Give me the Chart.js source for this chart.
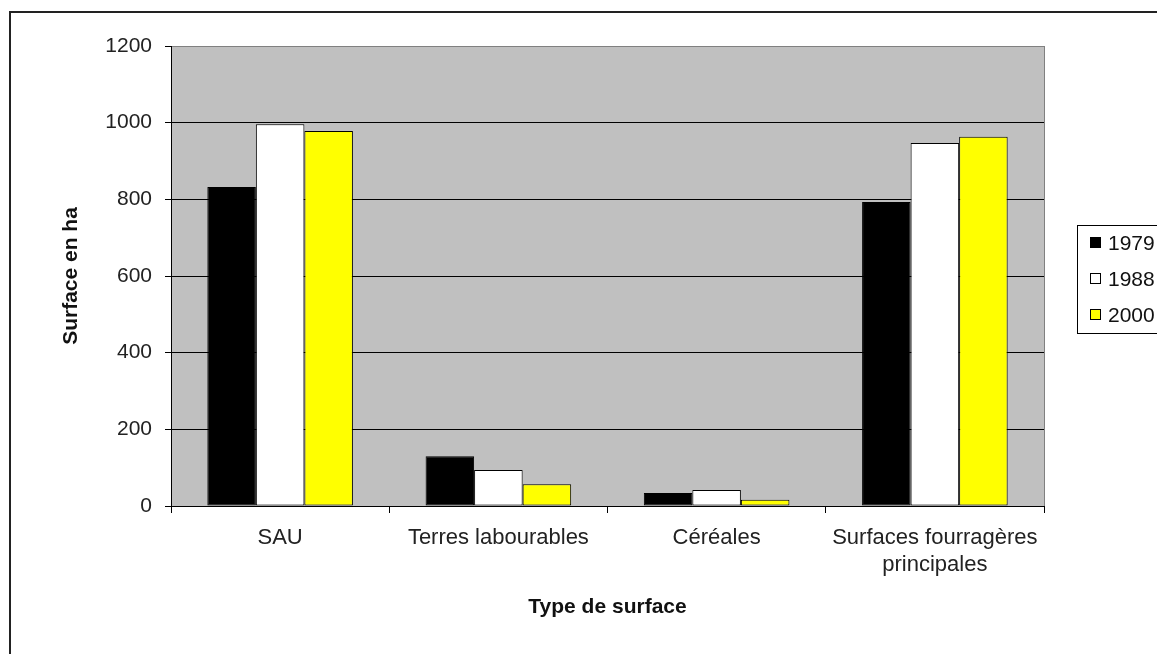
<!DOCTYPE html>
<html>
<head>
<meta charset="utf-8">
<script src="https://cdn.jsdelivr.net/npm/chart.js@4"></script>
<style>
  html, body { margin: 0; padding: 0; background: #fff; overflow: hidden; }
  #frame { position: absolute; left: 9px; top: 11px; width: 1300px; height: 800px; border: 2px solid #222; }
  #wrap { position: absolute; left: 0; top: 0; width: 1157px; height: 654px; }
</style>
</head>
<body>
<div id="frame"></div>
<div id="wrap"><canvas id="c"></canvas></div>
<script>
const categories = ['SAU', 'Terres labourables', 'Céréales', ['Surfaces fourragères', 'principales']];
const seriesNames = ['1979', '1988', '2000'];
const values1979 = [832, 130, 34, 793];
const values1988 = [996, 94, 42, 947];
const values2000 = [978, 57, 16, 963];
const seriesColors = ['#000000', '#FFFFFF', '#FFFF00'];
const yTicks = [0, 200, 400, 600, 800, 1000, 1200];
const yTitle = 'Surface en ha';
const xTitle = 'Type de surface';

const FONT = "'Liberation Sans', Arial, sans-serif";

const plotBg = {
  id: 'plotBg',
  beforeDraw(chart) {
    const {ctx, chartArea: a} = chart;
    ctx.save();
    ctx.fillStyle = '#C0C0C0';
    ctx.fillRect(a.left, a.top, a.right - a.left, a.bottom - a.top);
    ctx.strokeStyle = '#808080';
    ctx.lineWidth = 1;
    ctx.beginPath();
    ctx.moveTo(a.right + 0.5, a.top);
    ctx.lineTo(a.right + 0.5, a.bottom);
    ctx.stroke();
    ctx.restore();
  }
};

const framedLegend = {
  id: 'framedLegend',
  afterDraw(chart) {
    const {ctx, chartArea: a} = chart;
    const mid = (a.top + a.bottom) / 2;
    const x0 = a.right + 33;
    const centers = chart.data.datasets.map((d, i) => mid - 33 + i * 36);
    ctx.save();
    ctx.strokeStyle = '#000';
    ctx.lineWidth = 1;
    ctx.strokeRect(Math.round(x0) + 0.5, Math.round(centers[0] - 18) + 0.5, 300, (centers[centers.length - 1] - centers[0]) + 36);
    ctx.font = "21px " + FONT;
    ctx.textBaseline = 'middle';
    ctx.textAlign = 'left';
    chart.data.datasets.forEach((d, i) => {
      const cy = Math.round(centers[i]);
      ctx.fillStyle = d.backgroundColor;
      ctx.fillRect(x0 + 13, cy - 6, 11, 11);
      ctx.strokeStyle = '#000';
      ctx.strokeRect(x0 + 13 + 0.5, cy - 6 + 0.5, 10, 10);
      ctx.fillStyle = '#111';
      ctx.fillText(d.label, x0 + 31, cy + 1);
    });
    ctx.restore();
  }
};

const seriesValues = [values1979, values1988, values2000];

new Chart(document.getElementById('c'), {
  type: 'bar',
  data: {
    labels: categories,
    datasets: seriesNames.map((name, i) => ({
      label: name,
      data: seriesValues[i],
      backgroundColor: seriesColors[i],
      borderColor: '#000',
      borderWidth: 1,
      borderSkipped: false,
      categoryPercentage: 0.667,
      barPercentage: 1.0
    }))
  },
  options: {
    responsive: true,
    maintainAspectRatio: false,
    animation: false,
    devicePixelRatio: 1,
    layout: { padding: { left: 0, top: 46, right: 113, bottom: 0 } },
    plugins: {
      legend: { display: false },
      tooltip: { enabled: false }
    },
    scales: {
      x: {
        afterFit(scale) { scale.height = 148; },
        grid: { display: true, drawOnChartArea: false, offset: true, color: '#000', tickColor: '#000', tickLength: 7 },
        border: { display: true, color: '#000', width: 1 },
        ticks: { color: '#222', font: { family: FONT, size: 22 }, padding: 12, maxRotation: 0, autoSkip: false },
        title: { display: true, text: xTitle, color: '#111', font: { family: FONT, size: 21, weight: 'bold' }, padding: { top: 0, bottom: 34 } }
      },
      y: {
        min: 0, max: 1200,
        afterFit(scale) { scale.width = 171; },
        afterBuildTicks(scale) { scale.ticks = yTicks.map(v => ({ value: v })); },
        grid: {
          color: (c) => (c.tick && c.tick.value === 1200) ? '#808080' : '#000',
          tickColor: '#000', tickLength: 6, lineWidth: 1
        },
        border: { display: true, color: '#000', width: 1 },
        ticks: { color: '#222', font: { family: FONT, size: 21 }, padding: 13, callback: (v) => String(v) },
        title: { display: true, text: yTitle, color: '#111', font: { family: FONT, size: 21, weight: 'bold' }, padding: { top: 59, bottom: 0 } }
      }
    }
  },
  plugins: [plotBg, framedLegend]
});
</script>
</body>
</html>
